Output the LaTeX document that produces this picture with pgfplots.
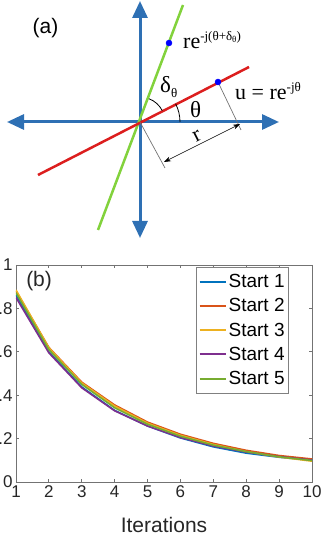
\documentclass[border=0pt]{standalone}
\usepackage{pgfplots}
\pgfplotsset{compat=1.18}
\usetikzlibrary{arrows.meta}
\usepackage{fontspec}
\setmainfont{Liberation Serif}
\setsansfont{Liberation Sans}
\definecolor{axblue}{RGB}{46,112,180}
\definecolor{lgreen}{RGB}{130,210,60}
\definecolor{lred}{RGB}{220,30,30}
\definecolor{m1}{RGB}{0,114,189}
\definecolor{m2}{RGB}{217,83,25}
\definecolor{m3}{RGB}{237,177,32}
\definecolor{m4}{RGB}{126,47,142}
\definecolor{m5}{RGB}{119,172,48}
\begin{document}
\begin{tikzpicture}
% ---------------- panel (a) ----------------
\begin{axis}[
  at={(0pt,303pt)}, anchor=south west,
  scale only axis, width=321pt, height=240pt,
  xmin=0, xmax=321, ymin=0, ymax=240, y dir=reverse,
  hide axis, clip=false]
\addplot[draw=axblue, line width=3pt, {Triangle[length=17pt,width=15pt]}-{Triangle[length=17pt,width=15pt]}] coordinates {(7,122) (279,122)};
\addplot[draw=axblue, line width=3pt, {Triangle[length=17pt,width=15pt]}-{Triangle[length=17pt,width=15pt]}] coordinates {(140,1) (140,238)};
\addplot[draw=lgreen, line width=2.5pt] coordinates {(98,230) (183,5)};
\addplot[draw=lred, line width=2.5pt] coordinates {(38,175) (249,67)};
\addplot[draw=black!55, line width=0.7pt] coordinates {(218,82) (241,130)};
\addplot[draw=black!55, line width=0.7pt] coordinates {(140,122) (165,168)};
\addplot[draw=black, line width=0.6pt, {Stealth[length=7pt,width=5pt]}-{Stealth[length=7pt,width=5pt]}] coordinates {(164,162) (240,124)};
\addplot[only marks, mark=*, mark size=3pt, color=blue] coordinates {(169,43) (218,82)};
\draw[black, line width=0.8pt] (axis cs:180,122) arc[start angle=0, end angle=27, radius=40pt];
\draw[black, line width=0.8pt] (axis cs:162.3,110.7) arc[start angle=27, end angle=69, radius=25pt];
\node[font=\sffamily\fontsize{21}{21}\selectfont] at (axis cs:45.5,28.5) {(a)};
\node[anchor=base west, inner sep=0pt, font=\fontsize{22}{22}\selectfont] at (axis cs:183,49) {re\raisebox{8pt}{\fontsize{13}{13}\selectfont -j(θ+δ\raisebox{-2pt}{\fontsize{9}{9}\selectfont θ})}};
\node[anchor=base west, inner sep=0pt, font=\fontsize{22}{22}\selectfont] at (axis cs:235,100) {u = re\raisebox{8pt}{\fontsize{13}{13}\selectfont -jθ}};
\node[anchor=base west, inner sep=0pt, font=\fontsize{23}{23}\selectfont] at (axis cs:160,93) {δ\raisebox{-5pt}{\fontsize{13}{13}\selectfont θ}};
\node[anchor=base west, inner sep=0pt, font=\fontsize{23}{23}\selectfont] at (axis cs:190,118) {θ};
\node[rotate=27, font=\fontsize{22}{22}\selectfont] at (axis cs:197,136) {r};
\end{axis}
% ---------------- panel (b) ----------------
\begin{axis}[
  at={(16pt,61pt)}, anchor=south west,
  scale only axis, width=296pt, height=217pt,
  xmin=1, xmax=10, ymin=0, ymax=1,
  xtick={1,2,3,4,5,6,7,8,9,10},
  ytick={0,0.2,0.4,0.6,0.8,1},
  yticklabels={0,0.2,0.4,0.6,0.8,1},
  tick align=inside, major tick length=3pt,
  axis line style={black!55, line width=0.8pt},
  tick style={black!55, line width=0.8pt},
  /pgf/number format/assume math mode=true,
  ticklabel style={font=\sffamily\fontsize{17}{17}\selectfont, text=black!85},
  xlabel={Iterations},
  xlabel style={font=\sffamily\fontsize{21}{21}\selectfont, text=black!85, anchor=center, at={(axis description cs:0.5,-0.198)}},
  legend style={at={(0.922,0.991)}, anchor=north east, draw=black!50, line width=0.6pt,
    font=\sffamily\fontsize{19}{19}\selectfont, row sep=5.5pt, inner xsep=2pt, inner ysep=5pt},
  legend cell align=left,
  legend image code/.code={\draw[#1, line width=2pt] (0pt,0pt) -- (26pt,0pt);},
  every axis plot/.append style={line width=1.6pt},
]
\addplot[color=m1] coordinates {(1,0.862) (2,0.600) (3,0.438) (4,0.330) (5,0.258) (6,0.203) (7,0.162) (8,0.133) (9,0.114) (10,0.100)};
\addlegendentry{Start 1\hspace{10pt}}
\addplot[color=m2] coordinates {(1,0.880) (2,0.620) (3,0.460) (4,0.355) (5,0.276) (6,0.220) (7,0.178) (8,0.146) (9,0.122) (10,0.106)};
\addlegendentry{Start 2\hspace{10pt}}
\addplot[color=m3] coordinates {(1,0.885) (2,0.618) (3,0.456) (4,0.350) (5,0.271) (6,0.215) (7,0.173) (8,0.140) (9,0.115) (10,0.096)};
\addlegendentry{Start 3\hspace{10pt}}
\addplot[color=m4] coordinates {(1,0.850) (2,0.595) (3,0.434) (4,0.328) (5,0.258) (6,0.205) (7,0.166) (8,0.138) (9,0.117) (10,0.101)};
\addlegendentry{Start 4\hspace{10pt}}
\addplot[color=m5] coordinates {(1,0.872) (2,0.610) (3,0.450) (4,0.342) (5,0.266) (6,0.211) (7,0.170) (8,0.140) (9,0.116) (10,0.099)};
\addlegendentry{Start 5\hspace{10pt}}
\node[font=\sffamily\fontsize{21}{21}\selectfont, text=black!85] at (axis description cs:0.078,0.926) {(b)};
\end{axis}
\pgfresetboundingbox
\path[use as bounding box] (0pt,0pt) rectangle (321pt,543pt);
\end{tikzpicture}
\end{document}
